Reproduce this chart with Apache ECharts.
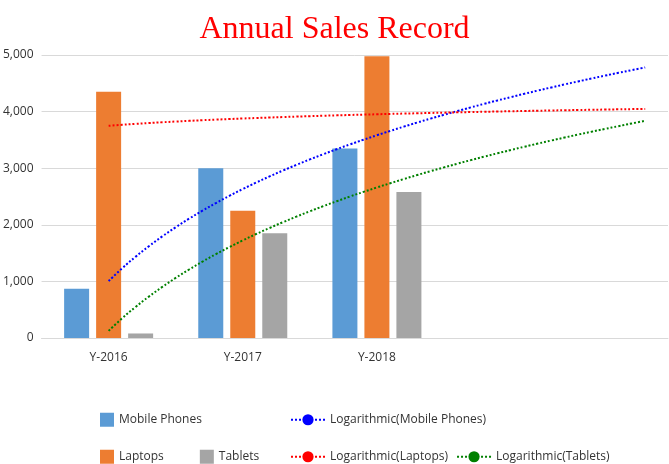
<!DOCTYPE html>
<html>
<head>
<script src="https://cdn.jsdelivr.net/npm/echarts@6/dist/echarts.min.js"></script>
<style>html,body{margin:0;padding:0;background:#fff}#c{width:669px;height:464px}</style>
</head>
<body>
<div id="c"></div>
<script>
const years = ['Y-2016', 'Y-2017', 'Y-2018'];
const mobile = [870, 3000, 3350];
const laptops = [4350, 2250, 4980];
const tablets = [80, 1850, 2580];
const forecastEnd = 5;

// logarithmic least-squares trendline y = a*ln(x) + b, x = 1..n
function logTrend(vals) {
  const xs = vals.map((v, i) => Math.log(i + 1));
  const mx = xs.reduce((s, v) => s + v, 0) / xs.length;
  const my = vals.reduce((s, v) => s + v, 0) / vals.length;
  let sxx = 0, sxy = 0;
  xs.forEach((x, i) => { sxx += (x - mx) ** 2; sxy += (x - mx) * (vals[i] - my); });
  const a = sxy / sxx, b = my - a * mx;
  const pts = [];
  for (let k = 0; k <= 40; k++) {
    const x = 1 + k * (forecastEnd - 1) / 40;
    pts.push([x, a * Math.log(x) + b]);
  }
  return pts;
}
const pairs = v => v.map((y, i) => [i + 1, y]);

const chart = echarts.init(document.getElementById('c'));
const legendText = { fontFamily: 'Open Sans', fontSize: 12, color: '#333' };
chart.setOption({
  animation: false,
  title: { text: 'Annual Sales Record', left: 'center', top: 0,
    textStyle: { fontFamily: 'Liberation Serif', fontSize: 32, fontWeight: 'normal', color: '#ff0000' } },
  grid: { left: 40, right: 1, top: 55, bottom: 126 },
  legend: [
    { left: 95, top: 405, itemWidth: 14, itemHeight: 14, itemGap: 30, textStyle: legendText,
      data: [{ name: 'Mobile Phones', icon: 'rect' }] },
    { left: 95, top: 442, itemWidth: 14, itemHeight: 14, itemGap: 36, textStyle: legendText,
      data: [{ name: 'Laptops', icon: 'rect' }, { name: 'Tablets', icon: 'rect' }] },
    { left: 285, top: 405, itemWidth: 34, itemGap: 30, textStyle: legendText,
      data: ['Logarithmic(Mobile Phones)'] },
    { left: 285, top: 442, itemWidth: 34, itemGap: 8, textStyle: legendText,
      data: ['Logarithmic(Laptops)', 'Logarithmic(Tablets)'] }
  ],
  xAxis: {
    type: 'value', min: 0.5, max: 5.17,
    splitLine: { show: false },
    axisLine: { lineStyle: { color: '#d9d9d9' } },
    axisTick: { show: false },
    axisLabel: { customValues: [1, 2, 3], formatter: v => years[Math.round(v) - 1] || '',
      fontFamily: 'Open Sans', fontSize: 12, color: '#333', margin: 10 }
  },
  yAxis: {
    type: 'value', min: 0, max: 5000, interval: 1000,
    axisLine: { show: false }, axisTick: { show: false },
    splitLine: { lineStyle: { color: '#d9d9d9' } },
    axisLabel: { fontFamily: 'Open Sans', fontSize: 12, color: '#333', margin: 8 }
  },
  series: [
    { name: 'Mobile Phones', type: 'bar', data: pairs(mobile), barWidth: 25, barGap: '28%', itemStyle: { color: '#5B9BD5' } },
    { name: 'Laptops', type: 'bar', data: pairs(laptops), barWidth: 25, barGap: '28%', itemStyle: { color: '#ED7D31' } },
    { name: 'Tablets', type: 'bar', data: pairs(tablets), barWidth: 25, barGap: '28%', itemStyle: { color: '#A5A5A5' } },
    { name: 'Logarithmic(Mobile Phones)', type: 'line', data: logTrend(mobile), smooth: true, symbol: 'none',
      lineStyle: { color: '#0000ff', width: 2, type: [2, 2] }, itemStyle: { color: '#0000ff' } },
    { name: 'Logarithmic(Laptops)', type: 'line', data: logTrend(laptops), smooth: true, symbol: 'none',
      lineStyle: { color: '#ff0000', width: 2, type: [2, 2] }, itemStyle: { color: '#ff0000' } },
    { name: 'Logarithmic(Tablets)', type: 'line', data: logTrend(tablets), smooth: true, symbol: 'none',
      lineStyle: { color: '#008000', width: 2, type: [2, 2] }, itemStyle: { color: '#008000' } }
  ]
});
</script>
</body>
</html>
